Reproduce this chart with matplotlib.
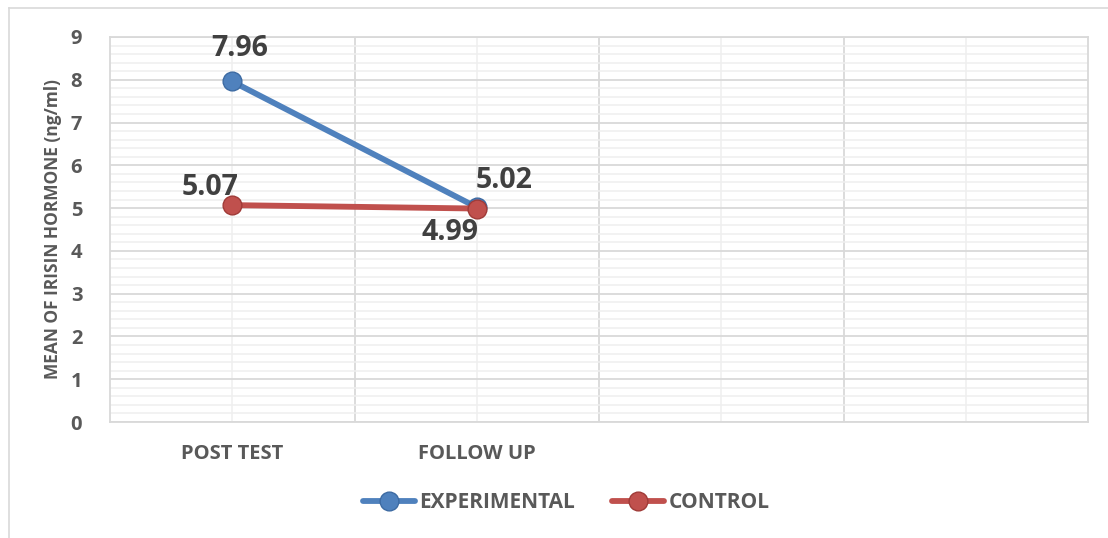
import matplotlib.pyplot as plt
from matplotlib.ticker import MultipleLocator, FixedLocator
from matplotlib.lines import Line2D

plt.rcParams['font.family'] = ['Open Sans', 'DejaVu Sans']
plt.rcParams['font.weight'] = 'bold'

categories = ["POST TEST", "FOLLOW UP", "", ""]
experimental = [7.96, 5.02]
control = [5.07, 4.99]
# label offsets in points (dx, dy)
expOffsets = [(5, 24), (20, 19)]
ctlOffsets = [(-16, 13), (-19, -17)]

blue = "#4F81BD"
red = "#C0504D"
txt = "#595959"

fig = plt.figure(figsize=(11.08, 5.38), dpi=100)
W, H = 1108, 538
ax = fig.add_axes([110/W, 1-422/H, (1088-110)/W, (422-37)/H])

# outer chart frame
fig.add_artist(Line2D([9/W, 9/W], [0, 1-8/H], color="#D9D9D9", lw=1.2))
fig.add_artist(Line2D([9/W, 1], [1-8/H, 1-8/H], color="#D9D9D9", lw=1.2))

xs = range(len(categories))
ax.set_xlim(-0.5, len(categories)-0.5)
ax.set_ylim(0, 9)
ax.set_xticks(list(xs))
ax.set_xticklabels(categories, fontsize=14.5, color=txt)
ax.xaxis.set_minor_locator(FixedLocator([0.5, 1.5, 2.5]))
ax.yaxis.set_major_locator(MultipleLocator(1))
ax.yaxis.set_minor_locator(MultipleLocator(0.2))
ax.tick_params(axis='y', labelsize=14.5, labelcolor=txt, length=0, pad=20, which='both')
ax.tick_params(axis='x', length=0, pad=16, which='both')

ax.grid(True, axis='y', which='major', color="#D9D9D9", lw=1.3)
ax.grid(True, axis='y', which='minor', color="#EFEFEF", lw=1.1)
ax.grid(True, axis='x', which='minor', color="#D9D9D9", lw=1.3)
ax.grid(True, axis='x', which='major', color="#EFEFEF", lw=1.1)
ax.set_axisbelow(True)
for s in ax.spines.values():
    s.set_color("#D9D9D9")
    s.set_linewidth(1.3)

ax.set_ylabel("MEAN OF IRISIN HORMONE (ng/ml)", fontsize=12.5, color=txt, fontweight='bold')
ax.yaxis.set_label_coords(-0.049, 0.5)

ax.plot(xs[:2], experimental, color=blue, lw=4.2, marker='o', ms=13.5,
        mfc=blue, mec="#3D6BA3", mew=1, label="EXPERIMENTAL", solid_capstyle='round', zorder=3)
ax.plot(xs[:2], control, color=red, lw=4.2, marker='o', ms=13.5,
        mfc=red, mec="#A03B38", mew=1, label="CONTROL", solid_capstyle='round', zorder=4)

for i, v in enumerate(experimental):
    ax.annotate(f"{v:.2f}", (i, v), xytext=expOffsets[i], textcoords='offset points',
                ha='center', va='center', fontsize=20.5, color="#404040", zorder=5)
for i, v in enumerate(control):
    ax.annotate(f"{v:.2f}", (i, v), xytext=ctlOffsets[i], textcoords='offset points',
                ha='center', va='center', fontsize=20.5, color="#404040", zorder=5)

fig.legend(loc='center', bbox_to_anchor=(566/W, 1-503/H), ncol=2, frameon=False,
           fontsize=15, handlelength=2.5, columnspacing=1.8, handletextpad=0.2,
           labelcolor=txt)

fig.savefig("out.png", dpi=100)
